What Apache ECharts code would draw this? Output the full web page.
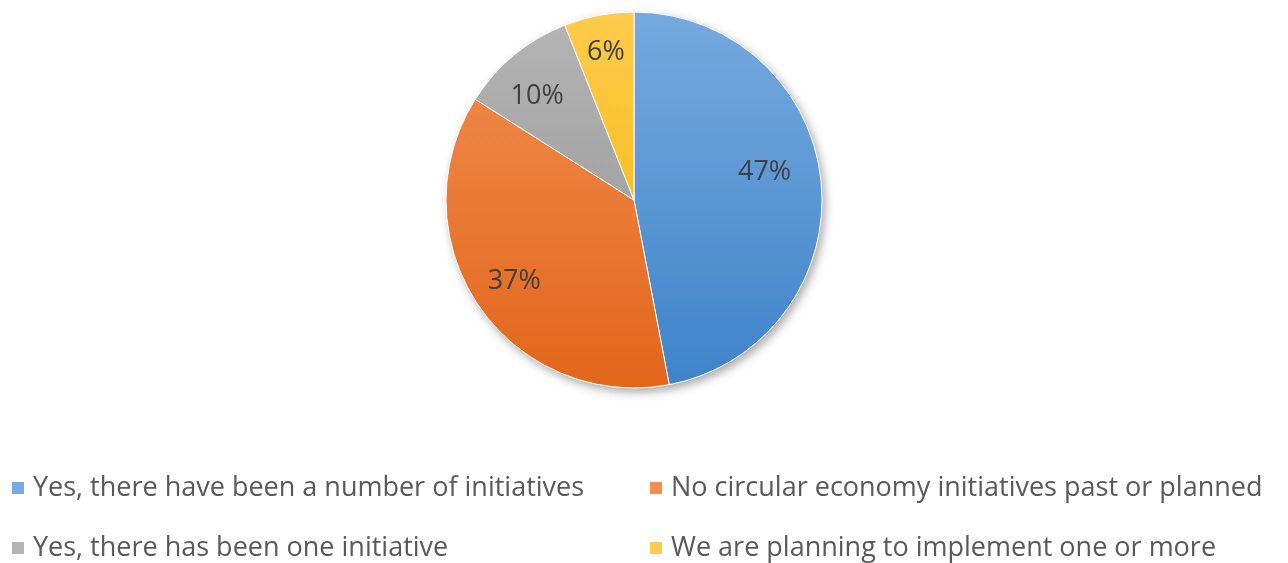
<!DOCTYPE html>
<html>
<head>
<meta charset="utf-8">
<script src="https://cdn.jsdelivr.net/npm/echarts@6/dist/echarts.min.js"></script>
<style>
html,body{margin:0;padding:0;background:#fff;}
#main{width:1288px;height:563px;}
</style>
</head>
<body>
<div id="main"></div>
<script>
const categories = [
  "Yes, there have been a number of initiatives",
  "No circular economy initiatives past or planned",
  "Yes, there has been one initiative",
  "We are planning to implement one or more"
];
const values = [47, 37, 10, 6];

const CX = 634, CY = 200, R = 188;
const gradTop = ['#76aade', '#f28f52', '#b5b5b5', '#ffcb4c'];
const gradBot = ['#3e83ca', '#e2661a', '#919191', '#eeb500'];
const labelRadius = [0.71, 0.77, 0.755, 0.80];
const labelAngleShift = [-6.6, 0, -3.4, 0];
const legendPos = [[10, 474], [648, 474], [10, 534], [648, 534]];

function grad(i) {
  return {
    type: 'linear', global: true,
    x: 0, y: CY - R, x2: 0, y2: CY + R,
    colorStops: [{offset: 0, color: gradTop[i]}, {offset: 1, color: gradBot[i]}]
  };
}

const total = values.reduce((a, b) => a + b, 0);
const midAngles = [];
let cum = 0;
values.forEach(v => { midAngles.push((cum + v / 2) / total * 360); cum += v; });

const chart = echarts.init(document.getElementById('main'));
const font = '"Open Sans", "Liberation Sans", sans-serif';
const legendText = {color: '#595959', fontSize: 27, fontFamily: font, padding: [0, 0, 0, 3], lineHeight: 28};

chart.setOption({
  animation: false,
  legend: categories.map((c, i) => ({
    data: [c], orient: 'horizontal', left: legendPos[i][0], top: legendPos[i][1],
    itemWidth: 14, itemHeight: 14, icon: 'rect', textStyle: legendText,
    selectedMode: false, padding: 0
  })),
  series: [
    {
      type: 'pie', silent: true, center: [CX, CY], radius: R, z: 1,
      label: {show: false}, labelLine: {show: false},
      itemStyle: {color: '#fff', shadowBlur: 10, shadowOffsetX: 3, shadowOffsetY: 4, shadowColor: 'rgba(0,0,0,0.35)'},
      data: [{value: 1, name: '_bg'}]
    },
    {
      type: 'pie', center: [CX, CY], radius: R, startAngle: 90, clockwise: true, z: 2,
      itemStyle: {borderColor: '#fff', borderWidth: 1},
      label: {
        show: true, position: 'inside', formatter: '{c}%',
        color: '#404040', fontSize: 27, fontFamily: font
      },
      labelLine: {show: false},
      labelLayout: function (p) {
        const i = p.dataIndex;
        const a = (midAngles[i] + labelAngleShift[i]) * Math.PI / 180;
        const d = R * labelRadius[i];
        return {x: CX + d * Math.sin(a), y: CY - d * Math.cos(a)};
      },
      data: categories.map((c, i) => ({name: c, value: values[i], itemStyle: {color: grad(i)}}))
    }
  ]
});
</script>
</body>
</html>
